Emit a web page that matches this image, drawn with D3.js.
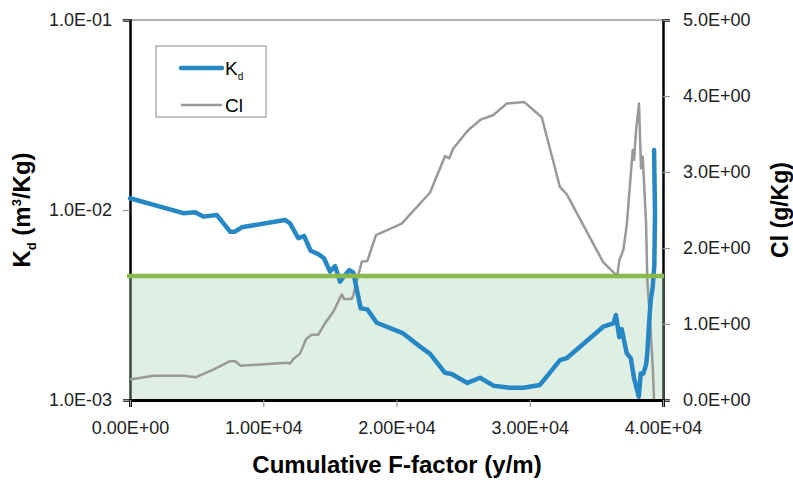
<!DOCTYPE html>
<html>
<head>
<meta charset="utf-8">
<script src="https://cdn.jsdelivr.net/npm/d3@7"></script>
<style>
  body { margin: 0; background: #fff; }
  svg { font-family: "Liberation Sans", Arial, sans-serif; }
</style>
</head>
<body>
<svg width="793" height="482"></svg>
<script>
// Kd and Cl vs cumulative F-factor
const kdF = [0, 4000, 4880, 5500, 6510, 7510, 7880, 8380, 11630, 12010, 12630, 13060, 13560, 14130,
  14560, 15010, 15390, 15760, 16140, 16460, 16760, 17310, 17810, 18520, 20510, 21770, 22520, 23640,
  24140, 25320, 26270, 27270, 28520, 29520, 30770, 32270, 32770, 35520, 36270, 36470, 36720, 36900,
  37280, 37580, 37830, 38180, 38330, 38520, 38730, 38820, 38970, 39080, 39230, 39350, 39400, 39330]
const kdValues = [0.01153, 0.00962, 0.00973, 0.00923, 0.00942, 0.00769, 0.00769, 0.00811, 0.00886,
  0.00851, 0.00710, 0.00730, 0.00610, 0.00586, 0.00557, 0.00474, 0.00507, 0.00420, 0.00455, 0.00483,
  0.00468, 0.00304, 0.00300, 0.00255, 0.00224, 0.00191, 0.00175, 0.00139, 0.00137, 0.00123, 0.00131,
  0.00119, 0.00116, 0.00116, 0.00120, 0.00162, 0.00166, 0.00243, 0.00253, 0.00280, 0.00214, 0.00236,
  0.00176, 0.00166, 0.00130, 0.00104, 0.00138, 0.00138, 0.00153, 0.00176, 0.00264, 0.00336, 0.00394,
  0.00514, 0.00962, 0.0207]

const clF = [0, 1750, 4000, 4950, 6250, 7510, 7880, 8310, 11760, 12010, 12260, 12760, 13210, 13640,
  14130, 14640, 15260, 15510, 15890, 16060, 16640, 16760, 17390, 17810, 18460, 20390, 22520, 23640,
  23960, 24260, 25320, 26320, 27270, 28270, 29590, 30900, 32270, 32770, 35520, 36570, 36720, 37020,
  37280, 37730, 37830, 37980, 38200, 38350, 38480, 38730, 38820, 39030, 39230, 39330]
const clValues = [0.27, 0.32, 0.32, 0.30, 0.40, 0.51, 0.51, 0.45, 0.49, 0.48, 0.54, 0.61, 0.80, 0.86,
  0.86, 1.01, 1.16, 1.25, 1.39, 1.33, 1.33, 1.38, 1.82, 1.83, 2.17, 2.32, 2.73, 3.21, 3.18, 3.31, 3.54,
  3.69, 3.75, 3.90, 3.92, 3.72, 2.80, 2.71, 1.81, 1.63, 1.84, 1.97, 2.30, 3.29, 3.16, 3.55, 3.90, 3.05,
  3.20, 2.32, 1.58, 1.05, 0.44, 0.0]

const kdThreshold = 0.0045

const xTicks = [0, 10000, 20000, 30000, 40000]
const kdTicks = [0.001, 0.01, 0.1]
const clTicks = [0, 1, 2, 3, 4, 5]

// "1.0E-01" style labels
function sci(v, digits) {
  if (v === 0) return (0).toFixed(digits) + "E+00"
  let e = Math.floor(Math.log10(Math.abs(v)) + 1e-9)
  let m = v / Math.pow(10, e)
  let sign = e < 0 ? "-" : "+"
  return m.toFixed(digits) + "E" + sign + String(Math.abs(e)).padStart(2, "0")
}

const svg = d3.select("svg")
const plotLeft = 130, plotRight = 663, plotTop = 20, plotBottom = 400

const x = d3.scaleLinear().domain([0, 40000]).range([plotLeft, plotRight])
const yKd = d3.scaleLog().domain([0.001, 0.1]).range([plotBottom, plotTop])
const yCl = d3.scaleLinear().domain([0, 5]).range([plotBottom, plotTop])

// top border of plot area
svg.append("line")
  .attr("x1", plotLeft - 8).attr("x2", plotRight)
  .attr("y1", plotTop).attr("y2", plotTop)
  .attr("stroke", "#666").attr("stroke-width", 1.2)

function styleAxis(g) {
  g.selectAll(".tick line").attr("stroke", "#999").attr("stroke-width", 1.2)
  g.selectAll(".tick text").attr("fill", "#222").style("font-size", "18px")
  g.select(".domain").attr("stroke", "#000").attr("stroke-width", 2.5)
}

svg.append("g")
  .attr("transform", `translate(${plotLeft},0)`)
  .call(d3.axisLeft(yKd).tickValues(kdTicks).tickFormat(d => sci(d, 1)).tickSizeOuter(0).tickSize(7).tickPadding(11))
  .call(styleAxis)

svg.append("g")
  .attr("transform", `translate(${plotRight},0)`)
  .call(d3.axisRight(yCl).tickValues(clTicks).tickFormat(d => sci(d, 1)).tickSizeOuter(0).tickSize(7).tickPadding(13))
  .call(styleAxis)

// shaded band below threshold (sits over the axis lines, under the data)
svg.append("rect")
  .attr("x", plotLeft - 1)
  .attr("y", yKd(kdThreshold))
  .attr("width", plotRight - plotLeft + 2)
  .attr("height", plotBottom - yKd(kdThreshold))
  .attr("fill", "rgb(165,210,178)")
  .attr("fill-opacity", 0.35)

// data lines
const kdLine = d3.line().x((d, i) => x(kdF[i])).y(d => yKd(d))
const clLine = d3.line().x((d, i) => x(clF[i])).y(d => yCl(d))

svg.append("path")
  .datum(clValues)
  .attr("d", clLine)
  .attr("fill", "none")
  .attr("stroke", "#999")
  .attr("stroke-width", 2.5)
  .attr("stroke-linejoin", "round")

svg.append("path")
  .datum(kdValues)
  .attr("d", kdLine)
  .attr("fill", "none")
  .attr("stroke", "#2587c4")
  .attr("stroke-width", 4.5)
  .attr("stroke-linejoin", "round")
  .attr("stroke-linecap", "round")

svg.append("line")
  .attr("x1", plotLeft - 3).attr("x2", plotRight + 1)
  .attr("y1", yKd(kdThreshold)).attr("y2", yKd(kdThreshold))
  .attr("stroke", "#8aba4c")
  .attr("stroke-width", 4.5)

const bottomAxis = svg.append("g")
  .attr("transform", `translate(0,${plotBottom})`)
  .call(d3.axisBottom(x).tickValues(xTicks).tickFormat(d => sci(d, 2)).tickSizeOuter(0).tickSize(7).tickPadding(14))
  .call(styleAxis)
bottomAxis.select(".domain").attr("stroke-width", 3)

// axis titles
const kdTitle = svg.append("text")
  .attr("transform", "translate(30,210) rotate(-90)")
  .attr("text-anchor", "middle")
  .style("font-size", "24px").style("font-weight", "bold")
kdTitle.append("tspan").text("K")
kdTitle.append("tspan").text("d").style("font-size", "13px").attr("dy", 6)
kdTitle.append("tspan").text(" (m").attr("dy", -6)
kdTitle.append("tspan").text("3").style("font-size", "13px").attr("dy", -9)
kdTitle.append("tspan").text("/Kg)").attr("dy", 9)

svg.append("text")
  .attr("transform", "translate(788,210) rotate(-90)")
  .attr("text-anchor", "middle")
  .style("font-size", "23px").style("font-weight", "bold")
  .text("Cl (g/Kg)")

svg.append("text")
  .attr("x", 397).attr("y", 473)
  .attr("text-anchor", "middle")
  .style("font-size", "24px").style("font-weight", "bold")
  .text("Cumulative F-factor (y/m)")

// legend
const legend = svg.append("g")
legend.append("rect")
  .attr("x", 156).attr("y", 46).attr("width", 110).attr("height", 71)
  .attr("fill", "#fff").attr("stroke", "#888").attr("stroke-width", 1)

legend.append("line")
  .attr("x1", 181).attr("x2", 222).attr("y1", 68).attr("y2", 68)
  .attr("stroke", "#2587c4").attr("stroke-width", 4.5).attr("stroke-linecap", "round")
legend.append("line")
  .attr("x1", 181).attr("x2", 222).attr("y1", 105).attr("y2", 105)
  .attr("stroke", "#999").attr("stroke-width", 2.5)

const kdLabel = legend.append("text").attr("x", 225).attr("y", 75).style("font-size", "19px")
kdLabel.append("tspan").text("K")
kdLabel.append("tspan").text("d").style("font-size", "10px").attr("dy", 5)
legend.append("text").attr("x", 225).attr("y", 112).style("font-size", "19px").text("Cl")
</script>
</body>
</html>
